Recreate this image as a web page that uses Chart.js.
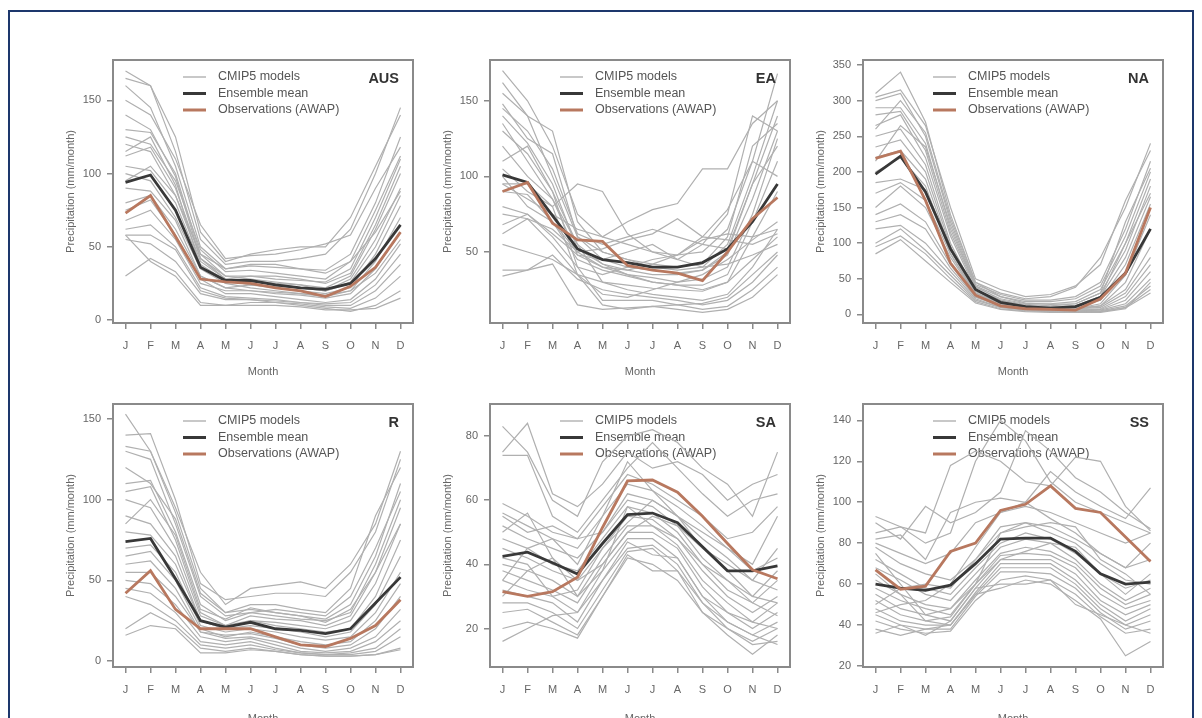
<!DOCTYPE html>
<html>
<head>
<meta charset="utf-8">
<title>CMIP5 precipitation seasonal cycle</title>
<script src="https://cdn.jsdelivr.net/npm/chart.js@4.4.1/dist/chart.umd.min.js"></script>
<style>
  html, body { margin: 0; padding: 0; background: #fff; overflow: hidden; }
  #frame { position: absolute; left: 8px; top: 10px; width: 1182px; height: 720px;
           border: 2px solid #1d376c; border-bottom: none; }
  canvas { position: absolute; }
</style>
</head>
<body>
<div id="frame"></div>
<canvas id="aus"></canvas>
<canvas id="ea"></canvas>
<canvas id="na"></canvas>
<canvas id="r"></canvas>
<canvas id="sa"></canvas>
<canvas id="ss"></canvas>
<script>
// ---- data ----
const months = ['J', 'F', 'M', 'A', 'M', 'J', 'J', 'A', 'S', 'O', 'N', 'D'];
const seriesNames = ['CMIP5 models', 'Ensemble mean', 'Observations (AWAP)'];

// AUS
const ausTicks = [0, 50, 100, 150];
const ausRange = [-2, 177.5];
const ausMean = [94, 99, 75, 36, 27, 27, 24, 22, 21, 25, 42, 65];
const ausObs = [73, 85, 57, 28, 26, 25, 22, 20, 16, 23, 36, 60];
const ausModels = [
  [170, 160, 115, 55, 38, 40, 40, 42, 45, 62, 100, 145],
  [165, 160, 125, 60, 40, 45, 48, 50, 50, 70, 105, 140],
  [160, 145, 105, 50, 35, 37, 36, 35, 34, 45, 80, 125],
  [150, 140, 110, 65, 42, 44, 45, 48, 52, 58, 90, 118],
  [130, 128, 100, 45, 30, 30, 28, 27, 26, 35, 70, 110],
  [125, 120, 95, 48, 33, 34, 32, 30, 28, 40, 75, 112],
  [120, 115, 85, 40, 28, 26, 25, 24, 22, 30, 62, 100],
  [112, 118, 90, 42, 30, 28, 26, 24, 20, 28, 55, 90],
  [105, 102, 80, 38, 27, 24, 22, 20, 18, 22, 45, 78],
  [100, 95, 70, 35, 25, 22, 20, 18, 16, 20, 40, 70],
  [90, 88, 68, 30, 22, 20, 18, 17, 15, 18, 35, 60],
  [80, 85, 62, 30, 22, 24, 23, 22, 20, 25, 42, 65],
  [75, 82, 58, 28, 18, 18, 16, 14, 12, 14, 28, 52],
  [68, 75, 55, 25, 20, 20, 19, 18, 17, 20, 32, 55],
  [62, 65, 50, 22, 16, 15, 14, 12, 11, 12, 24, 45],
  [58, 58, 48, 20, 15, 14, 13, 12, 10, 10, 20, 38],
  [55, 52, 40, 18, 14, 14, 12, 11, 9, 8, 15, 30],
  [30, 42, 33, 12, 10, 12, 12, 10, 8, 6, 10, 20],
  [58, 40, 30, 10, 10, 10, 10, 9, 7, 7, 8, 15],
  [95, 105, 85, 45, 35, 38, 38, 35, 32, 40, 60, 88],
  [140, 130, 98, 42, 28, 30, 30, 28, 25, 32, 65, 105],
  [115, 125, 92, 36, 26, 27, 25, 22, 20, 26, 50, 85]
];

// EA
const eaTicks = [50, 100, 150];
const eaRange = [3, 177];
const eaMean = [101, 96, 74, 52, 45, 43, 40, 40, 43, 52, 70, 95];
const eaObs = [90, 96, 69, 58, 57, 41, 38, 36, 31, 50, 72, 86];
const eaModels = [
  [170, 150, 120, 75, 60, 55, 50, 48, 50, 65, 110, 168],
  [162, 140, 130, 70, 50, 45, 40, 38, 40, 55, 100, 150],
  [155, 140, 100, 60, 45, 40, 38, 36, 38, 50, 95, 140],
  [148, 125, 115, 60, 50, 45, 42, 40, 42, 60, 120, 135],
  [140, 122, 95, 52, 42, 38, 35, 35, 38, 48, 85, 130],
  [135, 110, 85, 48, 40, 35, 33, 30, 32, 40, 75, 125],
  [130, 115, 90, 55, 42, 35, 30, 28, 28, 35, 70, 110],
  [105, 90, 80, 95, 90, 62, 50, 45, 55, 75, 140, 130],
  [100, 80, 70, 50, 40, 38, 42, 48, 60, 78, 110, 100],
  [95, 85, 75, 65, 60, 70, 78, 82, 105, 105, 135, 150],
  [90, 88, 70, 45, 38, 34, 30, 28, 25, 30, 60, 90],
  [80, 75, 60, 40, 35, 40, 45, 48, 58, 62, 60, 65],
  [75, 72, 65, 50, 52, 58, 62, 72, 60, 58, 55, 62],
  [68, 75, 62, 48, 45, 50, 55, 45, 40, 42, 48, 55],
  [62, 72, 55, 35, 22, 20, 25, 30, 35, 45, 58, 70],
  [55, 50, 45, 35, 30, 28, 26, 25, 24, 30, 45, 60],
  [38, 38, 48, 32, 25, 22, 20, 18, 15, 18, 30, 48],
  [34, 38, 42, 15, 12, 13, 14, 12, 10, 12, 20, 35],
  [110, 120, 90, 40, 18, 18, 18, 15, 12, 14, 25, 40],
  [145, 130, 105, 62, 55, 60, 65, 60, 55, 52, 95, 120],
  [120, 100, 85, 55, 30, 25, 22, 20, 18, 22, 40, 65],
  [95, 95, 80, 35, 15, 12, 14, 15, 16, 20, 35, 50]
];

// NA
const naTicks = [0, 50, 100, 150, 200, 250, 300, 350];
const naRange = [-12, 357];
const naMean = [197, 222, 172, 92, 35, 17, 11, 9, 11, 24, 58, 120];
const naObs = [219, 229, 160, 72, 27, 12, 8, 7, 6, 22, 58, 150];
const naModels = [
  [310, 340, 270, 140, 45, 30, 22, 25, 38, 80, 150, 240],
  [305, 315, 265, 150, 50, 35, 25, 28, 40, 70, 160, 230],
  [300, 310, 250, 130, 42, 28, 20, 20, 25, 45, 120, 215],
  [290, 290, 240, 120, 40, 25, 18, 18, 22, 40, 110, 200],
  [280, 285, 230, 115, 38, 22, 15, 15, 18, 35, 100, 190],
  [265, 280, 220, 110, 35, 20, 14, 12, 15, 30, 90, 180],
  [250, 260, 210, 100, 32, 18, 12, 11, 12, 25, 80, 165],
  [235, 245, 200, 95, 30, 16, 10, 10, 10, 20, 70, 155],
  [220, 230, 190, 90, 30, 15, 10, 9, 8, 15, 55, 140],
  [200, 220, 180, 85, 28, 14, 9, 8, 7, 12, 45, 120],
  [185, 190, 175, 95, 35, 18, 12, 10, 9, 12, 35, 95],
  [170, 185, 160, 85, 30, 16, 11, 9, 8, 10, 30, 80],
  [150, 180, 150, 80, 28, 15, 10, 8, 7, 8, 25, 70],
  [140, 155, 130, 70, 25, 12, 8, 7, 6, 7, 20, 60],
  [130, 140, 120, 65, 24, 12, 8, 6, 5, 6, 15, 50],
  [120, 125, 100, 60, 22, 10, 7, 5, 4, 5, 12, 40],
  [100, 120, 90, 55, 20, 10, 6, 5, 4, 4, 10, 35],
  [95, 110, 85, 50, 18, 8, 5, 4, 3, 4, 9, 30],
  [85, 105, 75, 45, 16, 7, 4, 3, 3, 3, 8, 45],
  [260, 300, 255, 135, 45, 25, 16, 14, 15, 30, 130, 205],
  [215, 265, 235, 125, 40, 20, 12, 10, 12, 25, 100, 170]
];

// R
const rTicks = [0, 50, 100, 150];
const rRange = [-3.7, 159.3];
const rMean = [74, 76, 51, 25, 21, 24, 20, 19, 17, 20, 36, 52];
const rObs = [42, 56, 32, 20, 20, 20, 15, 10, 9, 14, 22, 38];
const rModels = [
  [153, 130, 95, 55, 35, 45, 47, 49, 45, 60, 85, 130],
  [140, 141, 100, 48, 38, 40, 42, 42, 40, 55, 80, 125],
  [133, 130, 92, 45, 30, 35, 35, 32, 30, 45, 90, 120],
  [130, 125, 85, 40, 28, 30, 32, 30, 28, 40, 70, 105],
  [110, 112, 80, 35, 25, 30, 28, 26, 25, 30, 60, 100],
  [105, 108, 75, 30, 22, 28, 26, 25, 22, 28, 55, 95],
  [100, 95, 70, 28, 22, 25, 24, 22, 20, 25, 48, 85],
  [90, 85, 65, 25, 20, 25, 22, 20, 18, 20, 40, 75],
  [80, 78, 60, 25, 20, 22, 20, 18, 15, 18, 35, 65],
  [70, 72, 55, 22, 18, 20, 18, 15, 13, 15, 30, 55],
  [65, 68, 50, 20, 15, 18, 15, 12, 10, 12, 25, 48],
  [60, 62, 45, 18, 16, 17, 14, 10, 8, 10, 20, 40],
  [55, 55, 40, 18, 14, 15, 12, 8, 6, 8, 15, 32],
  [50, 48, 35, 15, 12, 14, 10, 6, 5, 6, 12, 25],
  [45, 42, 30, 12, 10, 12, 8, 5, 4, 5, 8, 20],
  [40, 35, 25, 10, 8, 10, 7, 5, 4, 4, 6, 15],
  [20, 30, 22, 8, 6, 8, 6, 4, 3, 3, 4, 8],
  [16, 22, 20, 5, 5, 7, 6, 4, 3, 3, 4, 7],
  [85, 100, 78, 32, 26, 33, 30, 28, 26, 35, 65, 110],
  [120, 110, 88, 42, 30, 32, 30, 28, 24, 32, 55, 85]
];

// SA
const saTicks = [20, 40, 60, 80];
const saRange = [8, 90];
const saMean = [42.5, 43.8, 40.5, 37, 46.5, 55.5, 56, 53, 45.5, 38, 38, 39.5];
const saObs = [31.5, 30, 31.5, 36, 51.5, 66, 66.3, 62.5, 55, 46.5, 38.3, 35.5];
const saModels = [
  [83, 75, 60, 55, 72, 80, 82, 78, 70, 65, 55, 75],
  [75, 84, 62, 58, 65, 75, 70, 72, 68, 60, 65, 68],
  [74, 74, 55, 50, 60, 70, 78, 70, 62, 55, 60, 62],
  [59, 55, 50, 48, 58, 68, 65, 60, 55, 48, 50, 58],
  [56, 52, 48, 45, 55, 65, 63, 58, 52, 45, 40, 55],
  [55, 50, 52, 48, 50, 62, 60, 55, 45, 40, 35, 45],
  [52, 48, 45, 42, 50, 60, 58, 52, 42, 35, 30, 38],
  [48, 45, 40, 38, 48, 58, 56, 50, 40, 32, 28, 35],
  [45, 42, 38, 35, 45, 55, 54, 48, 38, 30, 25, 30],
  [40, 38, 35, 30, 42, 52, 52, 46, 35, 28, 22, 28],
  [38, 35, 32, 28, 40, 50, 50, 45, 33, 25, 20, 25],
  [35, 32, 30, 25, 38, 48, 48, 42, 30, 22, 18, 22],
  [32, 30, 28, 22, 35, 45, 46, 40, 28, 20, 16, 20],
  [28, 28, 25, 20, 32, 44, 45, 38, 25, 18, 12, 18],
  [25, 26, 22, 18, 30, 42, 40, 35, 25, 20, 15, 16],
  [20, 22, 20, 17, 30, 43, 38, 38, 28, 22, 18, 15],
  [16, 20, 24, 25, 35, 47, 43, 42, 30, 25, 22, 20],
  [35, 45, 48, 40, 55, 72, 63, 55, 50, 45, 38, 42],
  [42, 40, 30, 32, 45, 53, 60, 55, 48, 42, 35, 32],
  [30, 38, 42, 35, 40, 50, 55, 52, 45, 38, 30, 28],
  [50, 56, 42, 30, 38, 58, 52, 48, 40, 35, 28, 24]
];

// SS
const ssTicks = [20, 40, 60, 80, 100, 120, 140];
const ssRange = [19.5, 148];
const ssMean = [60, 58, 57, 59.5, 70, 82, 82.5, 82.5, 76, 65, 60, 61];
const ssObs = [67, 57.5, 59, 76, 80, 96, 99, 108, 97, 95, 83, 71];
const ssModels = [
  [93, 88, 80, 85, 120, 140, 130, 110, 100, 95, 90, 85],
  [90, 82, 98, 90, 95, 105, 135, 125, 112, 105, 95, 87],
  [85, 88, 85, 118, 125, 120, 110, 108, 122, 120, 98, 86],
  [82, 84, 72, 95, 100, 102, 100, 115, 105, 98, 92, 107],
  [80, 75, 70, 75, 90, 95, 98, 95, 90, 85, 80, 85],
  [78, 70, 65, 62, 72, 85, 90, 88, 82, 75, 68, 80],
  [72, 65, 58, 55, 68, 80, 85, 82, 75, 65, 55, 65],
  [68, 62, 55, 52, 65, 78, 82, 80, 72, 60, 52, 58],
  [62, 55, 50, 48, 62, 75, 78, 76, 70, 58, 50, 55],
  [58, 52, 48, 45, 60, 74, 75, 74, 68, 55, 48, 52],
  [55, 48, 45, 42, 58, 72, 72, 72, 65, 52, 45, 50],
  [52, 45, 42, 40, 56, 70, 70, 70, 62, 50, 42, 48],
  [48, 42, 40, 40, 55, 68, 68, 68, 60, 48, 40, 45],
  [45, 40, 38, 38, 54, 66, 66, 65, 58, 46, 38, 42],
  [42, 38, 36, 37, 52, 62, 64, 62, 55, 44, 36, 38],
  [38, 35, 38, 40, 55, 58, 62, 60, 52, 43, 25, 32],
  [36, 40, 35, 42, 58, 60, 60, 62, 50, 45, 40, 36],
  [50, 58, 60, 58, 72, 88, 90, 85, 80, 70, 62, 60],
  [46, 50, 52, 60, 78, 95, 100, 92, 85, 75, 68, 72],
  [75, 60, 45, 48, 60, 72, 76, 80, 78, 65, 58, 62],
  [65, 55, 42, 44, 60, 85, 88, 90, 88, 72, 65, 55]
];

// ---- styling ----
const GREY = '#b0b0b0';
const MEAN = '#383838';
const OBS = '#b8785f';
const AXIS = '#8a8a8a';
const TEXT = '#666';

Chart.defaults.font.family = '"Liberation Sans", Arial, sans-serif';

// box, legend and panel label drawn inside each panel
const panelDeco = {
  id: 'panelDeco',
  beforeDatasetsDraw(chart) {
    const { ctx, chartArea: a } = chart;
    const styles = [[GREY, 1.4], [MEAN, 3], [OBS, 3]];
    ctx.save();
    ctx.font = '12.5px "Liberation Sans", Arial, sans-serif';
    ctx.textBaseline = 'middle';
    seriesNames.forEach((name, i) => {
      const y = a.top + 17 + i * 16.5;
      ctx.strokeStyle = styles[i][0];
      ctx.lineWidth = styles[i][1];
      ctx.beginPath();
      ctx.moveTo(a.left + 70, y);
      ctx.lineTo(a.left + 93, y);
      ctx.stroke();
      ctx.fillStyle = '#555';
      ctx.fillText(name, a.left + 105, y);
    });
    ctx.restore();
  },
  afterDraw(chart, args, opts) {
    const { ctx, chartArea: a } = chart;
    ctx.save();
    ctx.strokeStyle = AXIS;
    ctx.lineWidth = 2;
    ctx.strokeRect(a.left, a.top, a.right - a.left, a.bottom - a.top);
    ctx.font = 'bold 14.5px "Liberation Sans", Arial, sans-serif';
    ctx.fillStyle = '#333';
    ctx.textAlign = 'right';
    ctx.textBaseline = 'middle';
    ctx.fillText(opts.label, a.right - 14, a.top + 19);
    ctx.restore();
  }
};

function drawPanel(id, left, top, label, range, ticks, models, mean, obs, monthPad) {
  const cv = document.getElementById(id);
  cv.width = 385;
  cv.height = 338;
  cv.style.left = (left - 75) + 'px';
  cv.style.top = (top - 15) + 'px';

  const datasets = [
    { label: seriesNames[2], data: obs, borderColor: OBS, borderWidth: 2.8 },
    { label: seriesNames[1], data: mean, borderColor: MEAN, borderWidth: 2.8 }
  ].concat(models.map(m => ({ label: seriesNames[0], data: m, borderColor: GREY, borderWidth: 1.2 })));

  const tickGrid = {
    display: true, drawOnChartArea: false, drawTicks: true,
    tickLength: 6, color: AXIS, lineWidth: 1.5, offset: false
  };

  return new Chart(cv, {
    type: 'line',
    data: { labels: months, datasets: datasets },
    options: {
      responsive: false,
      animation: false,
      events: [],
      layout: { padding: { top: 15, right: 10, left: 0, bottom: 0 } },
      elements: { point: { radius: 0 }, line: { tension: 0 } },
      plugins: {
        legend: { display: false },
        tooltip: { enabled: false },
        panelDeco: { label: label }
      },
      scales: {
        x: {
          offset: true,
          grid: tickGrid,
          border: { display: false },
          ticks: { color: TEXT, font: { size: 11 }, padding: 10, autoSkip: false, maxRotation: 0 },
          title: { display: true, text: 'Month', color: TEXT, font: { size: 11 }, padding: { top: 0, bottom: monthPad } },
          afterFit: s => { s.height = 60; }
        },
        y: {
          min: range[0],
          max: range[1],
          grid: tickGrid,
          border: { display: false },
          ticks: { color: TEXT, font: { size: 11 }, padding: 6 },
          afterBuildTicks: s => { s.ticks = ticks.map(v => ({ value: v })); },
          title: { display: true, text: 'Precipitation (mm/month)', color: TEXT, font: { size: 11 }, padding: { top: 26, bottom: 0 } },
          afterFit: s => { s.width = 75; }
        }
      }
    },
    plugins: [panelDeco]
  });
}

drawPanel('aus', 113, 60, 'AUS', ausRange, ausTicks, ausModels, ausMean, ausObs, 4);
drawPanel('ea', 490, 60, 'EA', eaRange, eaTicks, eaModels, eaMean, eaObs, 4);
drawPanel('na', 863, 60, 'NA', naRange, naTicks, naModels, naMean, naObs, 4);
drawPanel('r', 113, 404, 'R', rRange, rTicks, rModels, rMean, rObs, 1);
drawPanel('sa', 490, 404, 'SA', saRange, saTicks, saModels, saMean, saObs, 1);
drawPanel('ss', 863, 404, 'SS', ssRange, ssTicks, ssModels, ssMean, ssObs, 1);
</script>
</body>
</html>
